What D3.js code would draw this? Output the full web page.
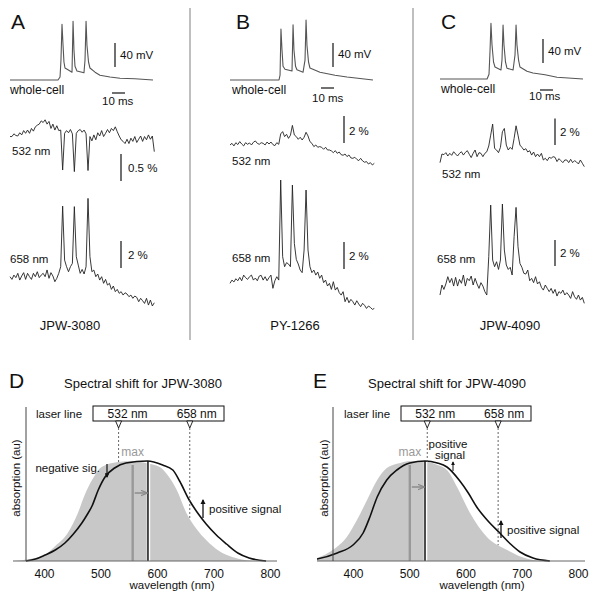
<!DOCTYPE html>
<html><head><meta charset="utf-8">
<script src="https://cdn.jsdelivr.net/npm/d3@7"></script>
<style>body{margin:0;background:#fff} text{font-family:Arial,"Liberation Sans",Helvetica,sans-serif;fill:#111}</style>
</head><body><svg id="c" width="600" height="598"></svg>
<script>
// ---------- DATA ----------
const SAMPLE_MS = 1.5; // optical traces sampled every 1.5 ms
// whole-cell recordings [time ms, membrane potential mV]
const WC_A = [[0,-65],[36.9,-65],[38.5,-60],[39.2,-32],[40,28],[40.8,-7],[41.5,-35],[42.3,-45],[44.6,-48],[47.7,-52],[48.5,33],[49.2,-15],[50,-42],[51.5,-50],[56.9,-53],[57.7,-32],[58.5,33],[59.2,-7],[60.4,-35],[61.5,-45],[65.4,-52],[69.2,-57],[76.9,-60],[84.6,-62],[96,-63],[110,-65]];
const WC_B = [[0,-65],[37.7,-65],[38.5,-57],[39.2,20],[40,-15],[40.8,-42],[42.3,-47],[47.7,-50],[48.5,27],[49.2,-15],[50.4,-42],[51.5,-48],[56.2,-52],[57.7,-32],[58.5,35],[59.2,-7],[60.4,-35],[61.5,-45],[69.2,-52],[80.8,-57],[90,-60],[110,-65]];
const WC_C = [[0,-65],[36.2,-65],[37.7,-57],[38.5,-17],[39.2,28],[40,-8],[41.2,-37],[42.3,-45],[46.9,-50],[47.7,-33],[48.5,25],[49.2,-8],[50.4,-37],[51.5,-47],[56.2,-50],[57.7,-25],[58.5,25],[59.2,-8],[60.4,-33],[61.5,-45],[66.9,-52],[71.5,-55],[80.8,-58],[90,-62],[110,-65]];
// optical signals, dF/F in %
const A_532 = [-0.06,-0.06,-0.01,-0.04,-0.05,0.01,-0.03,0.05,0.0,0.06,0.0,0.09,0.04,0.12,0.15,0.17,0.23,0.20,0.25,0.17,0.22,0.09,0.17,0.06,0.14,0.05,0.06,-0.68,0.0,0.05,0.01,0.07,-0.01,-0.71,0.0,0.05,0.07,0.02,0.06,-0.01,-0.69,-0.06,-0.14,-0.03,-0.12,0.01,-0.05,0.05,-0.06,0.0,0.07,0.01,0.09,0.05,0.12,0.03,-0.05,-0.12,-0.15,-0.19,-0.11,-0.19,-0.09,-0.15,-0.06,-0.17,-0.11,-0.05,-0.15,-0.06,-0.12,-0.03,-0.11,-0.05,-0.34];
const A_658 = [0,-0.2,0.12,-0.07,0.25,-0.25,0.05,0.3,-0.2,0.25,0,-0.2,0.25,0,0.37,-0.07,0.12,0.25,0,0.5,-0.12,0.3,0.05,-0.37,-0.12,0.25,0.74,5.23,1.23,0.74,0.37,0.74,0.99,5.19,1.48,0.86,0.25,0.54,0.2,0.74,5.8,1.48,0.37,0.49,0,0.2,-0.25,0,-0.49,-0.2,-0.62,-0.49,-0.94,-0.69,-1.11,-0.94,-1.23,-1.11,-1.36,-1.19,-1.28,-1.48,-1.36,-1.6,-1.43,-1.53,-1.85,-1.6,-1.78,-1.98,-1.6,-2.1,-1.73,-2.17,-1.93];
const B_532 = [-0.05,0.07,-0.12,0.12,-0.02,0.2,0.02,-0.12,0.12,0,0.1,-0.05,0.15,0.25,0.07,0,0.12,0.07,-0.05,0.17,0.02,0.17,-0.02,-0.1,0.12,0,0.77,0.94,0.57,0.74,0.44,0.67,1.4,0.69,0.57,0.37,0.52,0.32,0.52,0.89,0.62,0.2,0.07,-0.17,-0.05,-0.22,-0.17,-0.22,-0.37,-0.22,-0.42,-0.42,-0.49,-0.62,-0.47,-0.67,-0.57,-0.77,-0.81,-0.72,-0.91,-0.79,-1.01,-1.04,-0.96,-1.11,-1.21,-1.04,-1.23,-1.33,-1.28,-1.46,-1.36,-1.53,-1.41];
const B_658 = [-0.12,0.12,-0.02,0.22,0.07,0.32,0.07,0.49,0.3,0.17,0.37,0.49,0.12,0.27,0.07,0.42,0.47,0.12,0.37,0.07,0.3,0.49,-0.49,0.07,0.37,0.12,7.53,1.85,1.11,1.41,1.31,1.11,7.16,2.84,1.65,1.31,0.86,0.67,2.35,6.79,2.35,1.11,0.67,0.86,0.49,0.72,0.25,0.49,-0.07,0.12,-0.32,-0.12,-0.57,0,-0.62,-0.42,-0.81,-0.99,-0.74,-1.48,-1.16,-1.56,-1.31,-1.48,-1.73,-1.41,-1.65,-1.85,-1.6,-1.75,-1.98,-1.8,-1.9,-2.05,-1.98];
const C_532 = [-0.65,0,-0.05,0.1,-0.15,0.05,-0.1,0.17,0,-0.15,0.05,0.17,-0.08,0.12,0.25,-0.02,-0.27,0.05,0.3,-0.2,0.1,0.05,-0.2,0.05,0.17,0.6,1.42,2.25,0.42,0.3,0.1,0.5,1.67,1.92,0.67,0.3,0.5,0.35,1.17,2.12,1.42,0.67,0.5,0.3,0.4,0.15,0.25,-0.08,0.15,-0.2,0,-0.2,0.05,-0.45,-0.32,-0.5,-0.25,-0.32,-0.2,-0.25,-0.57,-0.35,-0.5,-0.65,-0.45,-0.45,-0.65,-0.4,-0.65,-0.5,-0.6,-0.75,-0.45,-0.7,-0.95];
const C_658 = [-0.64,0.13,-0.21,0.21,0.77,0.31,0.64,0.05,0.72,0.05,0.56,0.26,0.9,0.05,0.64,0.46,0.82,0.13,0.64,0.21,-0.13,0.31,0.05,-0.38,-0.64,2.31,6.28,2.05,1.54,1.92,1.33,2.05,6.36,2.82,1.67,1.33,1.49,0.9,3.85,6.1,3.08,1.79,1.49,1.03,0.97,1.28,0.46,0.64,0.31,0.77,0.21,0.38,-0.05,-0.26,0.13,-0.13,-0.38,-0.13,-0.51,-0.21,-0.72,-0.38,-0.51,-0.26,-0.64,-0.46,-0.64,-0.9,-0.38,-0.77,-0.97,-0.64,-1.03,-0.82,-1.28];
const DYES = ["JPW-3080","PY-1266","JPW-4090"];
// absorption spectra [wavelength nm, absorption au]
const D_GRAY = [[345,0],[375,0.02],[398,0.05],[420,0.15],[442,0.28],[460,0.48],[472,0.66],[485,0.81],[502,0.94],[531,0.99],[557,1.0],[580,0.98],[605,0.94],[620,0.85],[635,0.71],[652,0.48],[670,0.32],[687,0.21],[710,0.10],[733,0.04],[755,0.01],[776,0]];
const D_BLACK = [[368,0],[385,0.02],[402,0.06],[420,0.11],[437,0.18],[452,0.27],[467,0.38],[476,0.46],[485,0.55],[496,0.71],[508,0.84],[525,0.93],[545,0.98],[583,1.0],[610,0.96],[628,0.91],[640,0.80],[657,0.61],[672,0.48],[687,0.37],[705,0.26],[723,0.17],[743,0.08],[763,0.03],[793,0]];
const E_GRAY = [[330,0.02],[336,0.03],[364,0.11],[389,0.24],[407,0.41],[425,0.61],[443,0.81],[460,0.93],[484,0.98],[501,1.0],[532,0.99],[550,0.96],[567,0.91],[585,0.74],[608,0.48],[638,0.24],[674,0.11],[700,0.04],[720,0.01],[740,0]];
const E_BLACK = [[330,0.015],[336,0.02],[372,0.08],[400,0.16],[418,0.28],[430,0.44],[443,0.64],[460,0.81],[478,0.91],[501,0.98],[528,1.0],[550,0.98],[567,0.94],[590,0.80],[605,0.68],[620,0.54],[640,0.40],[661,0.28],[680,0.17],[697,0.09],[720,0.03],[750,0]];
const MAX_D = [557, 584];
const MAX_E = [501, 528];
const LASER = [532, 658];
const WL_TICKS = [400,500,600,700,800];

// ---------- DRAW ----------
const svg = d3.select("#c");
const MS_PX = 1.3, MV_PX = 0.6;

function txt(x,y,s,opt={}){
  const t = svg.append("text").attr("x",x).attr("y",y).text(s)
    .attr("font-size",opt.size||11.5).attr("text-anchor",opt.anchor||"start");
  if(opt.fill) t.style("fill",opt.fill);
  return t;
}
function vline(x,y1,y2,stroke="#111",w=1.2){
  svg.append("line").attr("x1",x).attr("x2",x).attr("y1",y1).attr("y2",y2).attr("stroke",stroke).attr("stroke-width",w);
}

const panels = [
 {L:"A", lx:11, x0:10, wc:WC_A, wcBase:80, b40:[115,67], t40:[120,59], b10:[112,93], t10:[102,105], wl:[10,94],
  o:[{d:A_532,y0:133.3,k:54,pct:0.5,bar:[121,181],bt:[128,172],bl:"0.5 %",lab:[12,155],n:"532 nm"},
     {d:A_658,y0:276.7,k:13.5,pct:2,bar:[121,268],bt:[128,259],bl:"2 %",lab:[10,263],n:"658 nm"}], name:DYES[0], cx:70},
 {L:"B", lx:236, x0:230, wc:WC_B, wcBase:80, b40:[333,67], t40:[338,58], b10:[321,88], t10:[312,102], wl:[232,94],
  o:[{d:B_532,y0:144.3,k:13.5,pct:2,bar:[344,143],bt:[349,135],bl:"2 %",lab:[232,165],n:"532 nm"},
     {d:B_658,y0:281.7,k:13.5,pct:2,bar:[344,269],bt:[349,260],bl:"2 %",lab:[232,262],n:"658 nm"}], name:DYES[1], cx:295},
 {L:"C", lx:441, x0:440, wc:WC_C, wcBase:79, b40:[543,63], t40:[548,55], b10:[540,90], t10:[529,100], wl:[441,93],
  o:[{d:C_532,y0:154,k:13.3,pct:2,bar:[555,145],bt:[560,136],bl:"2 %",lab:[442,178],n:"532 nm"},
     {d:C_658,y0:286.7,k:13,pct:2,bar:[555,266],bt:[560,257],bl:"2 %",lab:[437,263],n:"658 nm"}], name:DYES[2], cx:510}
];

// dividers
vline(190,8,340,"#aaa",1.5);
vline(413,8,340,"#aaa",1.5);

panels.forEach(p=>{
  const xs = d3.scaleLinear().domain([0,110]).range([p.x0, p.x0+110*MS_PX]);
  const yw = d3.scaleLinear().domain([-65,35]).range([p.wcBase, p.wcBase-100*MV_PX]);
  txt(p.lx,29,p.L,{size:21});
  svg.append("path").datum(p.wc).attr("fill","none").attr("stroke","#555").attr("stroke-width",1.1)
    .attr("stroke-linejoin","round").attr("d",d3.line().x(d=>xs(d[0])).y(d=>yw(d[1])));
  const len40 = yw(-65)-yw(-25);
  vline(p.b40[0],p.b40[1],p.b40[1]-len40);
  txt(p.t40[0],p.t40[1],"40 mV");
  svg.append("line").attr("x1",p.b10[0]).attr("x2",p.b10[0]+xs(10)-xs(0)).attr("y1",p.b10[1]).attr("y2",p.b10[1]).attr("stroke","#111").attr("stroke-width",1.2);
  txt(p.t10[0],p.t10[1],"10 ms");
  txt(p.wl[0],p.wl[1],"whole-cell",{size:12.2});
  p.o.forEach(o=>{
    const ys = d3.scaleLinear().domain([0,1]).range([o.y0, o.y0-o.k]);
    const pts = o.d.map((v,i)=>[i*SAMPLE_MS,v]);
    svg.append("path").datum(pts).attr("fill","none").attr("stroke","#222").attr("stroke-width",0.9)
      .attr("stroke-linejoin","round").attr("d",d3.line().x(d=>xs(d[0])).y(d=>ys(d[1])));
    vline(o.bar[0],o.bar[1],o.bar[1]-(ys(0)-ys(o.pct)));
    txt(o.bt[0],o.bt[1],o.bl);
    txt(o.lab[0],o.lab[1],o.n);
  });
  txt(p.cx,330,p.name,{size:13,anchor:"middle"});
});

// ---------- spectra ----------
const spec = [
 {L:"D", lp:[9,388], title:"Spectral shift for JPW-3080", tc:143, range:[44,270], axL:13, axR:277, yax:26,
  gray:D_GRAY, black:D_BLACK, mx:MAX_D, box:[93,224], lo:[9,7], xl:172, ylab:20},
 {L:"E", lp:[313,388], title:"Spectral shift for JPW-4090", tc:447, range:[353,578], axL:317, axR:585, yax:333,
  gray:E_GRAY, black:E_BLACK, mx:MAX_E, box:[401,531], lo:[8,6], xl:482, ylab:327.5}
];
const defs = svg.append("defs");
defs.append("marker").attr("id","ahG").attr("viewBox","0 0 10 10").attr("refX",9).attr("refY",5)
  .attr("markerWidth",5).attr("markerHeight",5).attr("orient","auto")
  .append("path").attr("d","M0,1 L10,5 L0,9").attr("fill","none").attr("stroke","#888").attr("stroke-width",1.6);
defs.append("marker").attr("id","ahK").attr("viewBox","0 0 10 10").attr("refX",8).attr("refY",5)
  .attr("markerWidth",4).attr("markerHeight",4).attr("orient","auto")
  .append("path").attr("d","M0,0 L10,5 L0,10 Z").attr("fill","#111");

spec.forEach((s,si)=>{
  const x = d3.scaleLinear().domain([400,800]).range(s.range);
  const y = d3.scaleLinear().domain([0,1]).range([561,461]);
  const cid = "clip"+s.L;
  defs.append("clipPath").attr("id",cid).append("rect").attr("x",s.axL).attr("y",380).attr("width",s.axR-s.axL).attr("height",182);
  txt(s.lp[0],s.lp[1],s.L,{size:21});
  txt(s.tc,388,s.title,{size:13,anchor:"middle"});
  const g = svg.append("g").attr("clip-path",`url(#${cid})`);
  g.append("path").datum(s.gray).attr("fill","#c8c8c8")
    .attr("d",d3.area().x(d=>x(d[0])).y0(561).y1(d=>y(d[1])).curve(d3.curveMonotoneX));
  g.append("line").attr("x1",x(s.mx[0])).attr("x2",x(s.mx[0])).attr("y1",y(0.96)).attr("y2",561).attr("stroke","#999").attr("stroke-width",2.4);
  g.append("line").attr("x1",x(s.mx[1])+0.5).attr("x2",x(s.mx[1])+0.5).attr("y1",y(1)).attr("y2",561).attr("stroke","#fff").attr("stroke-width",3.5);
  g.append("line").attr("x1",x(s.mx[1])).attr("x2",x(s.mx[1])).attr("y1",y(1)).attr("y2",561).attr("stroke","#111").attr("stroke-width",1.5);
  g.append("path").datum(s.black).attr("fill","none").attr("stroke","#111").attr("stroke-width",1.6)
    .attr("d",d3.line().x(d=>x(d[0])).y(d=>y(d[1])).curve(d3.curveMonotoneX));
  const ay = si===0 ? y(0.68) : y(0.74);
  svg.append("line").attr("x1",x(s.mx[0])+2).attr("x2",x(s.mx[1])-1).attr("y1",ay).attr("y2",ay)
    .attr("stroke","#888").attr("stroke-width",1.4).attr("marker-end","url(#ahG)");
  txt(x(s.mx[0]),456,"max",{size:12,anchor:"middle",fill:"#999"});
  svg.append("line").attr("x1",s.axL).attr("x2",s.axR).attr("y1",561).attr("y2",561).attr("stroke","#666").attr("stroke-width",1);
  vline(s.yax,407,561,"#444",1);
  const ax = svg.append("g").attr("transform","translate(0,561)")
    .call(d3.axisBottom(x).tickValues(WL_TICKS).tickSize(0).tickPadding(8));
  ax.select(".domain").remove();
  ax.selectAll("text").attr("font-size",12).attr("font-family",'Arial,"Liberation Sans",sans-serif').style("fill","#111");
  txt(s.xl,589,"wavelength (nm)",{size:11.5,anchor:"middle"});
  svg.append("text").attr("transform",`translate(${s.ylab},478) rotate(-90)`).attr("text-anchor","middle")
    .attr("font-size",11.5).text("absorption (au)");
  svg.append("rect").attr("x",s.box[0]).attr("y",406).attr("width",s.box[1]-s.box[0]).attr("height",15)
    .attr("fill","#fff").attr("stroke","#111").attr("stroke-width",1);
  txt(s.box[0]-57,418,"laser line",{size:11.5});
  const interp = (arr,w)=>{for(let i=1;i<arr.length;i++){if(arr[i][0]>=w){const a=arr[i-1],b=arr[i];return a[1]+(b[1]-a[1])*(w-a[0])/(b[0]-a[0]);}}return 0;};
  LASER.forEach((w,li)=>{
    const lx = x(w);
    svg.append("line").attr("x1",lx).attr("x2",lx).attr("y1",428).attr("y2",y(interp(s.gray,w))+1)
      .attr("stroke","#555").attr("stroke-width",0.9).attr("stroke-dasharray","2,2");
    svg.append("path").attr("d",`M${lx-3},421 L${lx+3},421 L${lx},428 Z`).attr("fill","#fff").attr("stroke","#111").attr("stroke-width",0.9);
    txt(lx+s.lo[li],418,w+" nm",{size:12,anchor:"middle"});
  });
  if(si===0){
    txt(100,472,"negative sig.",{size:11.5,anchor:"end"});
    svg.append("line").attr("x1",107).attr("x2",107).attr("y1",464).attr("y2",477).attr("stroke","#111").attr("stroke-width",1.2).attr("marker-end","url(#ahK)");
    svg.append("line").attr("x1",203).attr("x2",203).attr("y1",518).attr("y2",500).attr("stroke","#111").attr("stroke-width",1.3).attr("marker-end","url(#ahK)");
    txt(209,513,"positive signal",{size:11.5});
  } else {
    txt(448,448,"positive",{size:11.5,anchor:"middle"});
    txt(450,459,"signal",{size:11.5,anchor:"middle"});
    svg.append("line").attr("x1",453).attr("x2",453).attr("y1",471).attr("y2",462).attr("stroke","#111").attr("stroke-width",1).attr("marker-end","url(#ahK)");
    svg.append("line").attr("x1",501).attr("x2",501).attr("y1",538).attr("y2",521).attr("stroke","#111").attr("stroke-width",1.3).attr("marker-end","url(#ahK)");
    txt(507,534,"positive signal",{size:11.5});
  }
});
</script>
</body></html>
